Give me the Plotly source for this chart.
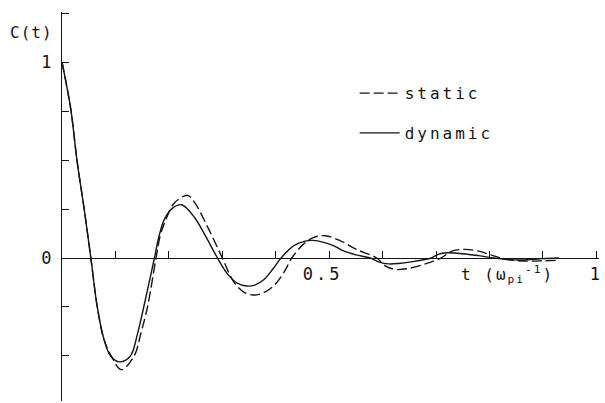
import plotly.graph_objects as go

# Values
t_dynamic = [0, 0.008, 0.017, 0.028, 0.0415, 0.054, 0.066, 0.078, 0.091, 0.108, 0.128,
             0.141, 0.153, 0.173, 0.182, 0.192, 0.207, 0.224, 0.248, 0.27, 0.291,
             0.31, 0.328, 0.346, 0.362, 0.378, 0.395, 0.41, 0.434, 0.455, 0.47, 0.49, 0.508,
             0.527, 0.55, 0.577, 0.595, 0.611, 0.63, 0.66, 0.691, 0.705, 0.72, 0.75,
             0.78, 0.809, 0.835, 0.862, 0.90, 0.93]
c_dynamic = [1, 0.89, 0.75, 0.5, 0.25, 0, -0.25, -0.41, -0.5, -0.53, -0.5,
             -0.39, -0.25, 0, 0.116, 0.2, 0.255, 0.272, 0.207, 0.105, 0,
             -0.082, -0.128, -0.143, -0.137, -0.11, -0.055, 0, 0.063, 0.086, 0.09, 0.08, 0.063,
             0.036, 0.016, 0, -0.022, -0.03, -0.028, -0.017, 0, 0.02, 0.027, 0.022,
             0.012, 0, -0.008, -0.01, -0.003, 0]

t_static = [0, 0.008, 0.017, 0.028, 0.0415, 0.054, 0.066, 0.078, 0.092, 0.111, 0.135,
            0.148, 0.16, 0.176, 0.184, 0.195, 0.21, 0.235, 0.248, 0.275, 0.300,
            0.322, 0.341, 0.358, 0.375, 0.395, 0.415, 0.430, 0.452, 0.471, 0.493, 0.521, 0.55,
            0.589, 0.605, 0.623, 0.645, 0.68, 0.709, 0.73, 0.755, 0.78, 0.80, 0.821,
            0.845, 0.872, 0.90, 0.925]
c_static = [1, 0.89, 0.75, 0.5, 0.25, 0, -0.25, -0.41, -0.5, -0.57, -0.5,
            -0.38, -0.25, 0, 0.116, 0.2, 0.28, 0.32, 0.284, 0.145, 0,
            -0.124, -0.175, -0.189, -0.18, -0.145, -0.075, 0, 0.071, 0.105, 0.114, 0.088, 0.045,
            0, -0.04, -0.058, -0.055, -0.03, 0, 0.035, 0.044, 0.035, 0.018, 0,
            -0.012, -0.016, -0.014, -0.012]

x_major_vals = [0.5, 1.0]
x_major_text = ["0.5\u00a0", "1"]
x_minor_vals = [0.1, 0.2, 0.3, 0.4, 0.6, 0.7, 0.8, 0.9]
y_major_vals = [0, 1]
y_major_text = ["0", "1"]
y_minor_vals = [-0.5, -0.25, 0.25, 0.5, 0.75, 1.25]

INK = "#151515"
MONO = "DejaVu Sans Mono"


def spaced(s, px):
    return '<span style="letter-spacing:%spx">%s</span>' % (px, s)


fig = go.Figure()
fig.add_trace(go.Scatter(
    x=t_static, y=c_static, mode="lines", name=spaced("static", 3), legendgroup="s",
    line=dict(color=INK, width=1.4, dash="10px,4px", shape="spline", smoothing=1.0),
))
fig.add_trace(go.Scatter(
    x=t_dynamic, y=c_dynamic, mode="lines", name=spaced("dynamic", 3), legendgroup="d",
    line=dict(color=INK, width=1.4, shape="spline", smoothing=1.0),
))

Y0, Y1 = -0.73, 1.256
zero_pos = (0 - Y0) / (Y1 - Y0)

fig.update_layout(
    width=605, height=403,
    margin=dict(l=62, r=3, t=12, b=2),
    paper_bgcolor="white", plot_bgcolor="white",
    font=dict(family=MONO, size=16, color=INK),
    showlegend=True,
    legend=dict(
        x=0.545, y=0.835, xanchor="left", yanchor="top",
        bgcolor="rgba(0,0,0,0)", borderwidth=0,
        tracegroupgap=16, traceorder="grouped", itemwidth=40,
        font=dict(family=MONO, size=16, color=INK),
    ),
    xaxis=dict(
        range=[0, 1.005], anchor="free", position=zero_pos,
        showline=True, linecolor=INK, linewidth=1.3,
        showgrid=False, zeroline=False,
        ticks="inside", ticklen=7, tickwidth=1.2, tickcolor=INK,
        tickmode="array", tickvals=x_major_vals,
        ticktext=[spaced(s, 3) for s in x_major_text],
        ticklabeloverflow="allow",
        minor=dict(tickmode="array", tickvals=x_minor_vals, ticks="inside",
                   ticklen=7, tickwidth=1.2, tickcolor=INK, showgrid=False),
        tickfont=dict(family=MONO, size=17, color=INK),
    ),
    yaxis=dict(
        range=[Y0, Y1],
        showline=True, linecolor=INK, linewidth=1.3,
        showgrid=False, zeroline=False,
        ticks="inside", ticklen=7, tickwidth=1.2, tickcolor=INK,
        tickmode="array", tickvals=y_major_vals, ticktext=y_major_text,
        minor=dict(tickmode="array", tickvals=y_minor_vals, ticks="inside",
                   ticklen=7, tickwidth=1.2, tickcolor=INK, showgrid=False),
        ticklabelstandoff=6,
        tickfont=dict(family=MONO, size=17, color=INK),
    ),
    annotations=[
        dict(text=spaced("C(t)", 1), xref="paper", yref="paper", x=-0.056, y=0.948,
             showarrow=False, xanchor="center", yanchor="middle",
             font=dict(family=MONO, size=16, color=INK)),
        dict(text=spaced("t (ω<sub>pi</sub><sup>-1</sup>)", 2), xref="x", yref="y",
             x=0.834, y=-0.085, showarrow=False, xanchor="center", yanchor="middle",
             font=dict(family=MONO, size=16, color=INK)),
    ],
)

fig.write_html("out.html")
